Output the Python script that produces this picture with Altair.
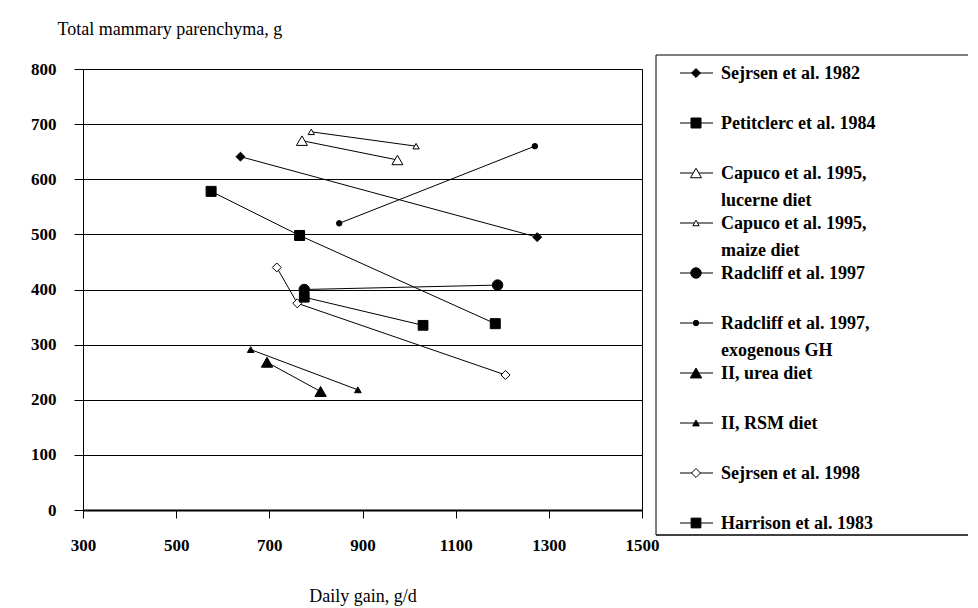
import altair as alt
import pandas as pd

# ---- data ----
series_names = [
    "Sejrsen et al. 1982",
    "Petitclerc et al. 1984",
    "Capuco et al. 1995, lucerne diet",
    "Capuco et al. 1995, maize diet",
    "Radcliff et al. 1997",
    "Radcliff et al. 1997, exogenous GH",
    "II, urea diet",
    "II, RSM diet",
    "Sejrsen et al. 1998",
    "Harrison et al. 1983",
]
legend_labels = [
    "Sejrsen et al. 1982",
    "Petitclerc et al. 1984",
    "Capuco et al. 1995,\nlucerne diet",
    "Capuco et al. 1995,\nmaize diet",
    "Radcliff et al. 1997",
    "Radcliff et al. 1997,\nexogenous GH",
    "II, urea diet",
    "II, RSM diet",
    "Sejrsen et al. 1998",
    "Harrison et al. 1983",
]

gain_sejrsen82 = [638, 1275]
par_sejrsen82 = [641, 495]
gain_petitclerc = [575, 765, 1185]
par_petitclerc = [578, 498, 338]
gain_capuco_luc = [770, 975]
par_capuco_luc = [670, 635]
gain_capuco_mai = [790, 1015]
par_capuco_mai = [686, 660]
gain_radcliff = [775, 1190]
par_radcliff = [400, 408]
gain_radcliff_gh = [850, 1270]
par_radcliff_gh = [520, 660]
gain_urea = [695, 810]
par_urea = [268, 215]
gain_rsm = [660, 890]
par_rsm = [291, 218]
gain_sejrsen98 = [716, 760, 1207]
par_sejrsen98 = [440, 375, 245]
gain_harrison = [775, 1030]
par_harrison = [386, 335]

x_ticks = [300, 500, 700, 900, 1100, 1300, 1500]
y_ticks = [0, 100, 200, 300, 400, 500, 600, 700, 800]

gains = [gain_sejrsen82, gain_petitclerc, gain_capuco_luc, gain_capuco_mai, gain_radcliff,
         gain_radcliff_gh, gain_urea, gain_rsm, gain_sejrsen98, gain_harrison]
pars = [par_sejrsen82, par_petitclerc, par_capuco_luc, par_capuco_mai, par_radcliff,
        par_radcliff_gh, par_urea, par_rsm, par_sejrsen98, par_harrison]

# ---- marker styles ----
shapes = ["diamond", "square", "triangle-up", "triangle-up", "circle",
          "circle", "triangle-up", "triangle-up", "diamond", "square"]
sizes = [80, 100, 120, 40, 110, 30, 130, 45, 80, 95]
fills = ["black", "black", "white", "white", "black",
         "black", "black", "black", "white", "black"]
size_of = dict(zip(series_names, sizes))

rows = []
for name, gx, py in zip(series_names, gains, pars):
    for k, (a, b) in enumerate(zip(gx, py)):
        rows.append({"series": name, "gain": a, "par": b, "ord": k, "msize": size_of[name]})
df = pd.DataFrame(rows)
leg = pd.DataFrame({"series": series_names, "label": legend_labels,
                    "idx": list(range(len(series_names))), "msize": sizes})

FONT = "Liberation Serif"
W, H = 559, 441

shape_enc = alt.Shape("series:N", scale=alt.Scale(domain=series_names, range=shapes), legend=None)
size_enc = alt.Size("msize:Q", scale=None, legend=None)
fill_enc = alt.Fill("series:N", scale=alt.Scale(domain=series_names, range=fills), legend=None)

x_enc = alt.X("gain:Q", scale=alt.Scale(domain=[300, 1500], nice=False),
              axis=alt.Axis(values=x_ticks, format="d", grid=False, tickSize=8, tickColor="black",
                            domainColor="black", domainWidth=2, labelFont=FONT,
                            labelFontWeight="bold", labelFontSize=17, labelColor="black",
                            labelFlush=False, labelOverlap=False,
                            labelPadding=19, title="Daily gain, g/d", titleFont=FONT,
                            titleFontWeight="normal", titleFontSize=18, titleColor="black",
                            titlePadding=34))
y_axis = alt.Axis(values=y_ticks, format="d", grid=True, gridColor="black", gridWidth=1,
                  gridOpacity=1, tickSize=9, tickColor="black", domainColor="black",
                  domainWidth=1, labelFont=FONT, labelFontWeight="bold", labelFontSize=17,
                  labelColor="black", labelPadding=18, labelFlush=False, labelOverlap=False,
                  title="Total mammary parenchyma, g", titleFont=FONT,
                  titleFontWeight="normal", titleFontSize=18, titleColor="black",
                  titleAngle=0, titleAlign="left", titleBaseline="alphabetic",
                  titleX=-26, titleY=-35)
y_scale = alt.Scale(domain=[0, 800], nice=False)

lines = alt.Chart(df).mark_line(color="black", strokeWidth=1).encode(
    x=x_enc, y=alt.Y("par:Q", scale=y_scale, axis=y_axis),
    detail="series:N", order="ord:Q")

points = alt.Chart(df).mark_point(stroke="black", strokeWidth=1, opacity=1).encode(
    x=alt.X("gain:Q"), y=alt.Y("par:Q", scale=y_scale, axis=None),
    shape=shape_enc, size=size_enc, fill=fill_enc)

# ---- legend (its own rows scale) ----
leg_scale = alt.Scale(domain=[-0.08, 8.74], reverse=True, nice=False, zero=False)
leg_y = alt.Y("idx:Q", scale=leg_scale, axis=None)

leg_lines = alt.Chart(leg).mark_rule(color="black", strokeWidth=1).encode(
    x=alt.value(597), x2=alt.value(630), y=leg_y)
leg_points = alt.Chart(leg).mark_point(stroke="black", strokeWidth=1, opacity=1).encode(
    x=alt.value(613), y=leg_y, shape=shape_enc, size=size_enc, fill=fill_enc)
leg_text = alt.Chart(leg).mark_text(align="left", baseline="alphabetic", dy=6,
                                    font=FONT, fontWeight="bold", fontSize=18,
                                    lineBreak="\n", lineHeight=27, color="black").encode(
    x=alt.value(638), y=leg_y, text="label:N")

one = pd.DataFrame({"a": [0]})
box_top = alt.Chart(one).mark_rule(color="black", strokeWidth=1).encode(
    x=alt.value(573), x2=alt.value(900), y=alt.value(-14))
box_left = alt.Chart(one).mark_rule(color="black", strokeWidth=1).encode(
    x=alt.value(573), y=alt.value(-14), y2=alt.value(466))
box_bottom = alt.Chart(one).mark_rule(color="black", strokeWidth=1.5).encode(
    x=alt.value(573), x2=alt.value(900), y=alt.value(466))

chart = alt.layer(lines, points, leg_lines, leg_points, leg_text,
                  box_top, box_left, box_bottom).resolve_scale(
    y="independent").properties(
    width=W, height=H,
    padding={"left": 75, "top": 61, "right": 326, "bottom": 96},
    autosize=alt.AutoSizeParams(type="none"),
    background="white",
).configure_view(stroke="black", strokeWidth=1)

chart.save("out.html", embed_options={"renderer": "svg", "actions": False})
